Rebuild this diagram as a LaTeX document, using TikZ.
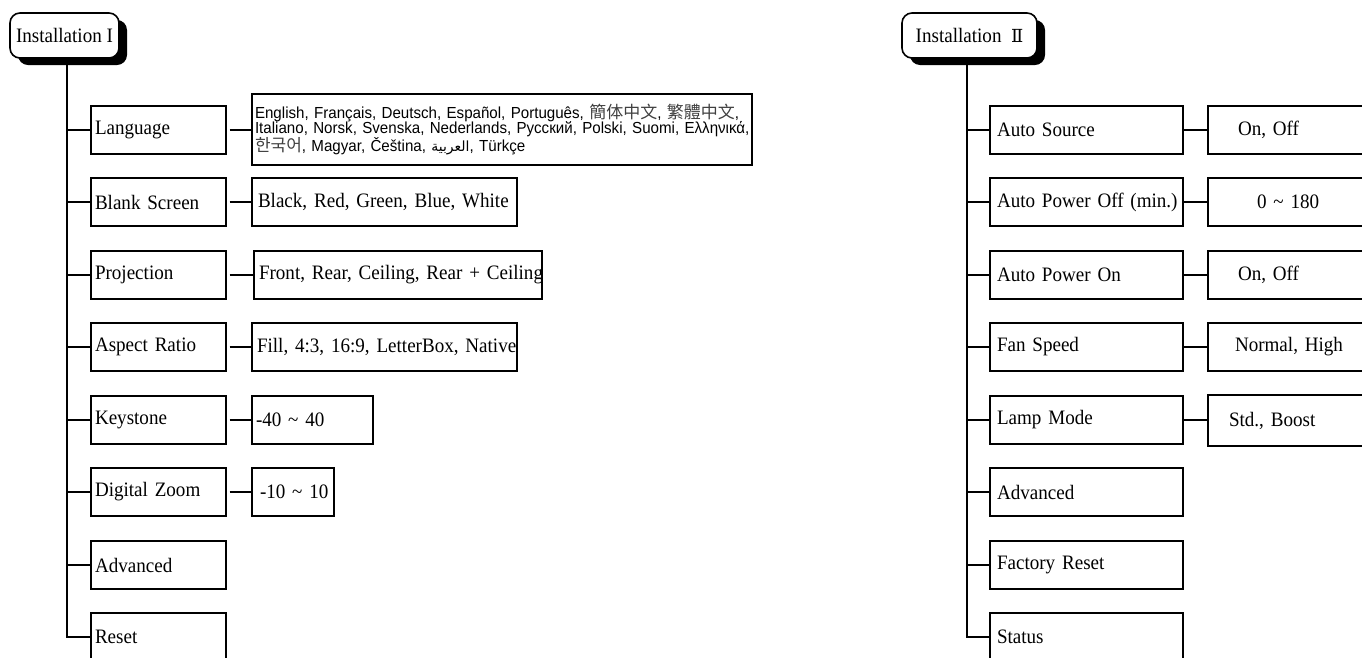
\documentclass[tikz,border=0pt]{standalone}
\usepackage{fontspec}
\setmainfont{Liberation Serif}[FakeStretch=0.93]
\newfontfamily\arialf{Liberation Sans}[FakeStretch=0.945]
\newfontfamily\scf{Noto Sans CJK SC}
\newfontfamily\tcf{Noto Sans CJK TC}
\newfontfamily\krf{Noto Sans CJK KR}
\newfontfamily\arabicf[Script=Arabic]{DejaVu Sans}
\newfontfamily\dvserif{DejaVu Serif}
\TeXXeTstate=1
\usetikzlibrary{shadows}
\begin{document}
\begin{tikzpicture}[x=1pt,y=-1pt,
  every node/.style={font=\fontsize{20.5}{23}\selectfont},
  box/.style={draw, line width=2pt, minimum height=48pt, inner sep=0pt, outer sep=0pt, anchor=west},
  hdr/.style={draw, line width=1.6pt, rounded corners=10pt, fill=white,
    drop shadow={shadow xshift=8pt, shadow yshift=-7pt, fill=black, opacity=1},
    inner sep=0pt, minimum height=45pt},
  wire/.style={line width=2pt},
  lang/.style={font=\arialf\fontsize{16}{15.5}\selectfont}]
\path[use as bounding box] (0,0) rectangle (1362,657);
\clip (0,0) rectangle (1362,657);

% ---------- Installation I ----------
\node[hdr, minimum width=109pt] (hL) at (64.5,35.5) {Installation I};
\coordinate (tL) at (67,58);

\node[box, text width=135pt] (l0) at (91,130) {\mbox{\hspace*{4pt}Language}};
\node[box, text width=135pt] (l1) at (91,202) {\mbox{\hspace*{4pt}Blank Screen}};
\node[box, text width=135pt] (l2) at (91,275) {\mbox{\hspace*{4pt}Projection}};
\node[box, text width=135pt] (l3) at (91,347) {\mbox{\hspace*{4pt}Aspect Ratio}};
\node[box, text width=135pt] (l4) at (91,420) {\mbox{\hspace*{4pt}Keystone}};
\node[box, text width=135pt] (l5) at (91,492) {\mbox{\hspace*{4pt}Digital Zoom}};
\node[box, text width=135pt] (l6) at (91,565) {\mbox{\hspace*{4pt}Advanced}};
\node[box, text width=135pt] (l7) at (91,637) {\mbox{\hspace*{4pt}Reset}};

\node[box, text width=500pt, minimum height=71pt, lang] (v0) at (252,129.5)
  {\mbox{\hspace*{3pt}English, Français, Deutsch, Español, Português, {\color{black!75}\scf\fontsize{17}{15}\selectfont 簡体中文}, {\color{black!75}\tcf\fontsize{17}{15}\selectfont 繁體中文},}\\
   \mbox{\hspace*{3pt}Italiano, Norsk, Svenska, Nederlands, Русский, Polski, Suomi, Ελληνικά,}\\
   \mbox{\hspace*{3pt}{\color{black!75}\krf\fontsize{17}{15}\selectfont 한국어}, Magyar, Čeština, {\arabicf\fontsize{14}{15}\selectfont\beginR العربية\endR}, Türkçe}};
\node[box, text width=265pt] (v1) at (252,202) {\mbox{\hspace*{6pt}Black, Red, Green, Blue, White}};
\node[box, text width=288pt] (v2) at (254,275) {\mbox{\hspace*{5pt}Front, Rear, Ceiling, Rear + Ceiling}};
\node[box, text width=265pt] (v3) at (252,347) {\mbox{\hspace*{5pt}Fill, 4:3, 16:9, LetterBox, Native}};
\node[box, text width=121pt] (v4) at (252,420) {\mbox{\hspace*{4pt}-40 \textasciitilde\ 40}};
\node[box, text width=82pt] (v5) at (252,492) {\mbox{\hspace*{8pt}-10 \textasciitilde\ 10}};

\draw[wire] (tL) |- (l7.west);
\foreach \i in {0,...,6} \draw[wire] (l\i.west) -- (l\i.west -| tL);
\foreach \i in {0,...,5} \draw[wire] ([xshift=3.5pt]l\i.east) -- (l\i.east -| v\i.west);

% ---------- Installation II ----------
\node[hdr, minimum width=135pt] (hR) at (969.5,35.5) {Installation\ \ {\dvserif\fontsize{18}{20}\selectfont Ⅱ}};
\coordinate (tR) at (967,58);

\node[box, text width=193pt] (r0) at (990,130) {\mbox{\hspace*{7pt}Auto Source}};
\node[box, text width=193pt] (r1) at (990,202) {\mbox{\hspace*{7pt}Auto Power Off (min.)}};
\node[box, text width=193pt] (r2) at (990,275) {\mbox{\hspace*{7pt}Auto Power On}};
\node[box, text width=193pt] (r3) at (990,347) {\mbox{\hspace*{7pt}Fan Speed}};
\node[box, text width=193pt] (r4) at (990,420) {\mbox{\hspace*{7pt}Lamp Mode}};
\node[box, text width=193pt] (r5) at (990,492) {\mbox{\hspace*{7pt}Advanced}};
\node[box, text width=193pt] (r6) at (990,565) {\mbox{\hspace*{7pt}Factory Reset}};
\node[box, text width=193pt] (r7) at (990,637) {\mbox{\hspace*{7pt}Status}};

\node[box, text width=170pt] (w0) at (1208,130) {\mbox{\hspace*{30pt}On, Off}};
\node[box, text width=170pt] (w1) at (1208,202) {\mbox{\hspace*{49pt}0 \textasciitilde\ 180}};
\node[box, text width=170pt] (w2) at (1208,275) {\mbox{\hspace*{30pt}On, Off}};
\node[box, text width=170pt] (w3) at (1208,347) {\mbox{\hspace*{27pt}Normal, High}};
\node[box, text width=170pt, minimum height=51pt] (w4) at (1208,420.5) {\mbox{\hspace*{21pt}Std., Boost}};

\draw[wire] (tR) |- (r7.west);
\foreach \i in {0,...,6} \draw[wire] (r\i.west) -- (r\i.west -| tR);
\foreach \i in {0,...,4} \draw[wire] (r\i.east) -- (r\i.east -| w\i.west);
\end{tikzpicture}
\end{document}
